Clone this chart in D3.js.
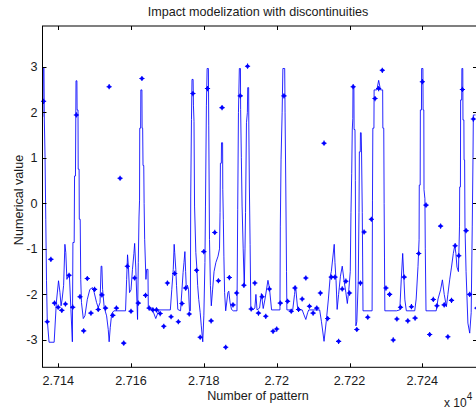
<!DOCTYPE html>
<html><head><meta charset="utf-8">
<script src="https://cdn.jsdelivr.net/npm/d3@7"></script>
<style>
html,body{margin:0;padding:0;background:#fff;overflow:hidden;}
svg{display:block;font-family:Arial,"Liberation Sans",Helvetica,sans-serif;}
</style></head>
<body>
<svg id="chart" width="476" height="410"></svg>
<script>
// ---------- data ----------
const chartTitle = "Impact modelization with discontinuities";
const xAxisLabel = "Number of pattern";
const yAxisLabel = "Numerical value";
const xTickValues = [27140, 27160, 27180, 27200, 27220, 27240];
const xTickLabels = ["2.714", "2.716", "2.718", "2.72", "2.722", "2.724"];
const yTickValues = [-3, -2, -1, 0, 1, 2, 3];
const yTickLabels = ["-3", "-2", "-1", "0", "1", "2", "3"];
const xLimits = [27135.7, 27255.0];
const yLimits = [-3.60, 3.893];

// measured samples (markers), one per pattern starting at 27136
const markerStart = 27136;
const markerValues = [
  2.24, -2.60, -1.23, -2.19, -2.28, -2.35, -2.21, -1.58, -2.28, 1.94,
  -2.05, -2.80, -1.65, -2.41, -1.89, -2.33, -2.01, -2.30, 2.56, -2.46,
  -2.30, 0.55, -3.07, -1.38, -2.37, -1.64, -2.19, 2.74, -2.02, -2.30,
  -2.34, -2.34, -2.42, -2.70, -1.75, -2.49, -1.54, -2.60, -2.20, -1.86,
  -2.43, 2.41, -1.47, -2.94, -1.06, 2.52, -2.58, -0.64, -1.70, 2.10,
  -3.16, -1.63, -2.23, -1.97, 2.36, -1.80, 3.01, -2.32, -1.75, -2.41,
  -2.05, -2.48, -1.88, -2.81, -2.76, -2.19, 2.36, -2.15, -2.37, -1.86,
  -2.33, -2.10, -1.64, -2.26, -2.41, -2.30, -1.97, 1.32, -2.53, -1.62,
  -1.62, -3.03, -1.88, -1.71, -1.97, 2.56, -2.77, -1.75, -0.63, -2.50,
  -0.35, 2.30, 2.52, 2.92, -1.86, -2.00, -3.00, -2.54, -2.28, -1.62,
  -2.58, -2.27, -2.52, -1.10, 2.67, -0.04, -2.88, -2.11, -2.25, -0.50,
  -2.23, -2.93, -2.13, -0.93, -1.15, 2.50, -0.60, -2.00, 1.85, -2.30
];
const markerX = markerValues.map((v, i) => markerStart + i);

// model curve vertices
const modelX = [
  27135.8,27135.9,27136.1,27136.2,27136.4,27136.6,27136.8,27137.0,27137.5,27138.9,
  27139.5,27140.1,27140.5,27140.8,27141.1,27141.5,27141.85,27142.1,27142.4,27142.9,
  27143.1,27143.5,27143.9,27144.05,27144.4,27144.5,27144.75,27144.9,27145.15,27145.2,
  27145.45,27145.5,27145.75,27145.8,27146.05,27146.2,27146.4,27146.9,27147.35,27148.0,
  27148.7,27149.45,27149.9,27150.55,27151.0,27151.5,27151.8,27152.0,27152.2,27152.65,
  27153.3,27153.75,27154.0,27154.3,27154.7,27155.3,27158.5,27158.8,27159.05,27159.3,
  27159.6,27160.0,27160.4,27160.8,27161.0,27161.3,27161.6,27161.8,27162.0,27162.2,
  27162.35,27162.4,27162.65,27162.7,27163.0,27163.05,27163.2,27163.3,27163.5,27163.6,
  27163.75,27164.1,27164.3,27164.65,27164.75,27165.5,27166.2,27166.8,27167.4,27167.7,
  27170.8,27171.2,27171.6,27171.85,27172.0,27172.3,27172.5,27172.85,27173.6,27174.0,
  27174.3,27174.55,27174.8,27175.0,27175.2,27175.5,27175.8,27176.05,27176.3,27176.4,
  27176.6,27176.75,27177.05,27177.15,27177.3,27177.45,27177.8,27178.1,27178.3,27178.6,
  27179.0,27179.3,27179.7,27180.0,27180.3,27180.45,27180.7,27180.9,27181.25,27181.35,
  27181.55,27181.8,27182.05,27182.4,27182.8,27183.3,27183.9,27184.3,27184.45,27184.55,
  27184.8,27184.85,27185.15,27185.2,27185.35,27185.5,27185.7,27186.0,27186.6,27186.85,
  27187.2,27187.6,27188.1,27189.1,27189.3,27189.5,27189.75,27190.05,27190.1,27190.3,
  27190.5,27190.8,27191.1,27191.3,27191.45,27191.7,27191.95,27192.05,27192.3,27192.35,
  27192.5,27192.7,27192.9,27193.5,27194.0,27194.3,27194.6,27195.3,27195.8,27196.3,
  27196.8,27197.6,27198.0,27198.6,27200.9,27201.0,27201.2,27201.5,27201.7,27202.2,
  27202.3,27202.5,27202.7,27202.8,27204.4,27204.9,27205.2,27205.5,27205.8,27207.0,
  27207.5,27208.0,27208.5,27208.8,27211.8,27212.3,27213.0,27213.6,27214.2,27214.7,
  27215.0,27215.4,27215.8,27216.0,27216.3,27216.6,27217.0,27217.5,27218.0,27218.5,
  27219.0,27219.4,27219.8,27220.2,27220.4,27220.6,27220.75,27220.9,27220.95,27221.2,
  27221.25,27221.5,27221.6,27221.75,27222.0,27222.4,27222.6,27222.7,27222.95,27223.0,
  27223.2,27223.3,27223.5,27223.6,27223.7,27226.2,27226.3,27226.4,27226.7,27226.75,
  27227.5,27228.0,27228.5,27229.1,27229.15,27229.4,27229.5,27229.6,27229.7,27232.9,
  27233.8,27234.2,27234.6,27234.9,27235.2,27235.6,27237.9,27238.3,27238.8,27239.1,
  27239.15,27239.4,27239.45,27239.75,27239.8,27240.15,27240.2,27240.4,27240.45,27240.7,
  27240.8,27241.0,27243.8,27244.3,27245.0,27245.5,27246.0,27246.6,27247.0,27247.5,
  27248.0,27248.5,27248.9,27249.2,27249.5,27249.9,27250.2,27250.25,27250.45,27250.5,
  27250.8,27250.85,27251.1,27251.15,27251.4,27251.45,27251.6,27251.7,27252.0,27252.5,
  27253.0,27253.4,27253.7,27253.9,27254.0,27254.6
];
const modelY = [
  1.90,2.98,2.98,1.85,1.00,-0.35,-1.70,-2.55,-3.05,-3.05,
  -2.18,-1.70,-1.96,-2.25,-2.10,-1.80,-0.90,-1.08,-1.67,-1.56,
  -1.60,-2.33,-3.04,-0.86,-0.86,0.60,0.60,2.69,2.69,2.05,
  2.05,0.75,0.75,-0.35,-0.35,-1.67,-2.18,-2.53,-2.47,-2.11,
  -1.89,-1.85,-1.96,-2.18,-2.29,-2.18,-1.38,-1.38,-1.89,-2.29,
  -2.47,-2.77,-3.04,-2.73,-2.42,-2.36,-2.36,-1.67,-1.13,-1.40,
  -1.96,-1.90,-1.45,-1.10,-0.88,-1.40,-2.10,-2.55,-1.30,-0.30,
  0.07,1.65,1.65,2.49,2.49,1.65,1.65,0.83,0.83,0.00,
  -0.79,-1.67,-1.45,-1.45,-2.29,-2.33,-2.40,-2.53,-2.40,-2.34,
  -2.34,-1.89,-1.45,-0.90,-1.08,-1.45,-1.80,-2.33,-2.36,-1.89,
  -1.52,-1.30,-1.06,-1.50,-1.89,-1.80,-1.90,-2.36,-2.36,0.16,
  1.84,2.72,2.72,2.14,1.80,-0.06,-1.08,-1.45,-1.80,-2.11,
  -2.40,-2.69,-3.04,-2.47,-1.30,-0.06,2.14,2.96,2.96,1.70,
  -0.79,-1.80,-2.25,-1.90,-1.50,-1.30,-1.16,-1.00,-0.20,0.88,
  0.88,1.33,1.33,0.30,-0.35,-1.16,-1.96,-2.36,-1.96,-1.93,
  -2.18,-2.33,-2.36,-2.36,-0.13,1.99,2.96,2.96,2.06,1.00,
  -0.06,-1.00,-1.81,-1.00,-0.20,1.77,1.99,2.54,2.54,1.72,
  0.38,-0.90,-2.29,-2.34,-2.30,-2.00,-2.34,-2.30,-1.98,-2.31,
  -2.10,-1.69,-1.85,-2.34,-2.34,-0.50,0.97,2.00,2.96,2.96,
  2.00,0.38,-1.50,-2.34,-2.34,-2.00,-1.81,-2.10,-2.34,-2.34,
  -2.45,-2.55,-2.40,-2.34,-2.34,-2.60,-3.03,-2.60,-2.10,-1.60,
  -1.50,-1.20,-0.90,-1.30,-1.70,-2.33,-2.00,-1.60,-1.38,-1.70,
  -1.96,-2.20,-1.90,-1.50,-0.20,0.66,1.61,1.86,2.56,2.56,
  1.62,1.62,0.50,-2.69,-2.60,-1.70,-0.20,1.13,1.13,1.55,
  1.55,1.15,-0.20,-1.20,-2.36,-2.36,0.07,1.65,1.65,2.49,
  2.49,2.70,2.49,2.49,1.65,1.65,0.00,-1.20,-2.36,-2.36,
  -2.34,-1.68,-1.10,-1.60,-2.12,-2.36,-2.36,-2.10,-1.39,-0.80,
  0.40,0.40,2.05,2.05,2.96,2.96,2.05,2.05,0.30,0.10,
  -1.00,-2.36,-2.36,-2.10,-1.90,-1.68,-2.00,-2.27,-2.00,-1.68,
  -1.40,-1.10,-0.92,-1.10,-1.40,-1.50,-0.50,0.36,0.36,2.27,
  2.27,2.96,2.96,1.83,1.83,0.95,0.95,-0.50,-1.50,-2.63,
  -2.85,-2.40,-0.50,1.00,1.94,1.94
];

// ---------- layout ----------
const plotLeft = 42.5, plotRight = 477, plotTop = 26, plotBottom = 367.3;
const svg = d3.select("#chart");
const x = d3.scaleLinear().domain(xLimits).range([plotLeft, plotRight]);
const y = d3.scaleLinear().domain(yLimits).range([plotBottom, plotTop]);
const blue = "#0000ff";
const textColor = "#1a1a1a";
const fs = 12.6;

// clip for line
svg.append("defs").append("clipPath").attr("id", "plotclip")
  .append("rect").attr("x", plotLeft).attr("y", plotTop)
  .attr("width", plotRight - plotLeft).attr("height", plotBottom - plotTop);

// model line
const lineGen = d3.line().x(d => x(d[0])).y(d => y(d[1]));
svg.append("path")
  .datum(modelX.map((xv, i) => [xv, modelY[i]]))
  .attr("clip-path", "url(#plotclip)")
  .attr("fill", "none").attr("stroke", blue).attr("stroke-width", 1)
  .attr("stroke-opacity", 0.85)
  .attr("stroke-linejoin", "miter")
  .attr("d", lineGen);

// markers
const mk = svg.append("g");
markerX.forEach((xv, i) => {
  const cx = x(xv), cy = y(markerValues[i]);
  const g = mk.append("g").attr("transform", `translate(${cx},${cy})`);
  g.append("circle").attr("r", 1.8).attr("fill", blue);
  g.append("path").attr("d", "M-2.6,0H2.6M0,-2.6V2.6")
    .attr("stroke", blue).attr("stroke-width", 1.1);
});

// axes box with inward ticks
const tickLen = 4;
const axisG = svg.append("g").attr("stroke", "#000").attr("stroke-width", 1).attr("fill", "none");
axisG.append("rect").attr("x", plotLeft).attr("y", plotTop)
  .attr("width", plotRight - plotLeft).attr("height", plotBottom - plotTop);

xTickValues.forEach(t => {
  const px = Math.round(x(t)) + 0.5;
  axisG.append("line").attr("x1", px).attr("x2", px).attr("y1", plotBottom).attr("y2", plotBottom - tickLen);
  axisG.append("line").attr("x1", px).attr("x2", px).attr("y1", plotTop).attr("y2", plotTop + tickLen);
});
yTickValues.forEach(t => {
  const py = Math.round(y(t)) + 0.5;
  axisG.append("line").attr("x1", plotLeft).attr("x2", plotLeft + tickLen).attr("y1", py).attr("y2", py);
  axisG.append("line").attr("x1", plotRight).attr("x2", plotRight - tickLen).attr("y1", py).attr("y2", py);
});

// tick labels
const tl = svg.append("g").attr("fill", textColor).attr("font-size", fs);
xTickValues.forEach((t, i) => {
  tl.append("text").attr("x", x(t)).attr("y", 385).attr("text-anchor", "middle").text(xTickLabels[i]);
});
yTickValues.forEach((t, i) => {
  tl.append("text").attr("x", 37.5).attr("y", y(t) + 4.5).attr("text-anchor", "end").text(yTickLabels[i]);
});

// exponent label (kept inside the picture)
const ex = svg.append("text").attr("x", 444).attr("y", 406.5).attr("fill", textColor).attr("font-size", 12);
ex.append("tspan").text("x 10");
ex.append("tspan").attr("dy", -6.5).attr("font-size", 10).text("4");

// title & axis labels
svg.append("text").attr("x", 258).attr("y", 16).attr("text-anchor", "middle")
  .attr("fill", textColor).attr("font-size", fs).text(chartTitle);
svg.append("text").attr("x", 258).attr("y", 400).attr("text-anchor", "middle")
  .attr("fill", textColor).attr("font-size", fs).text(xAxisLabel);
svg.append("text").attr("transform", "translate(23,200) rotate(-90)").attr("text-anchor", "middle")
  .attr("fill", textColor).attr("font-size", fs).text(yAxisLabel);
</script>
</body></html>
